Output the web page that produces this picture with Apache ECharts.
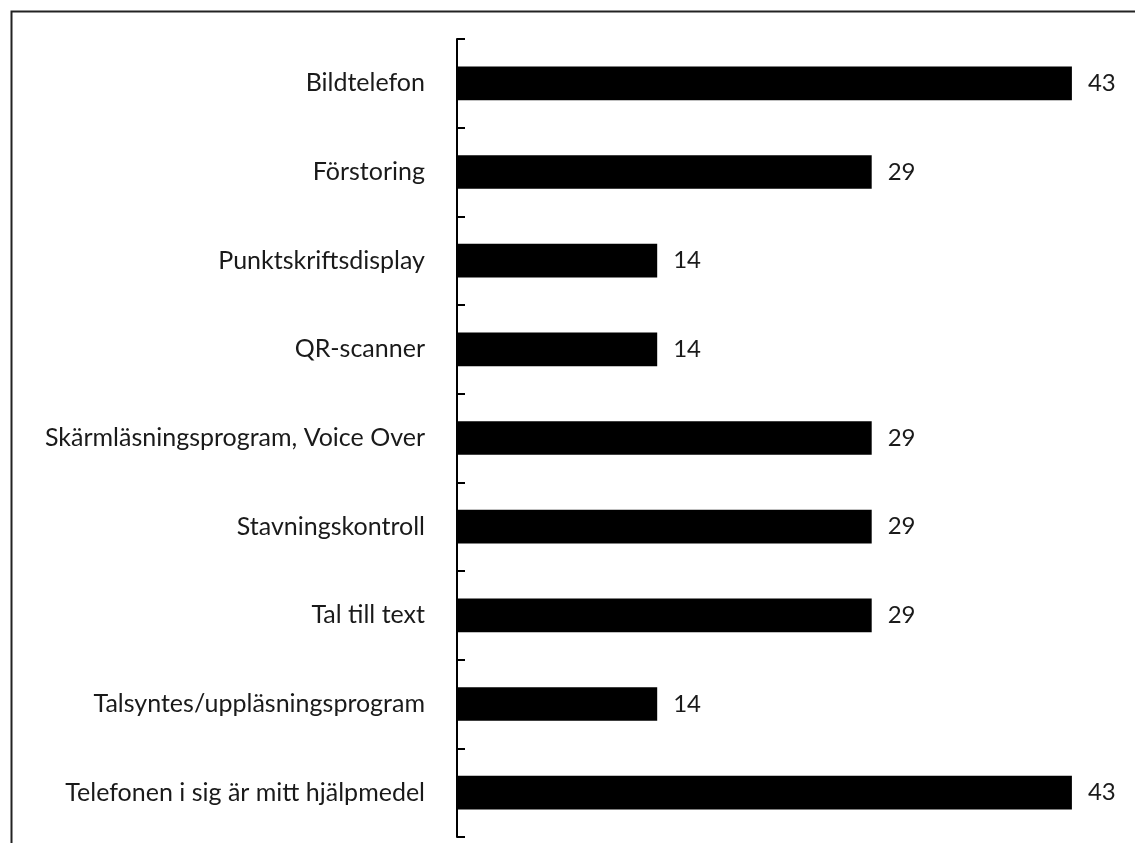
<!DOCTYPE html>
<html><head><meta charset="utf-8">
<script src="https://cdn.jsdelivr.net/npm/echarts@6/dist/echarts.min.js"></script>
<style>html,body{margin:0;padding:0;background:#fff;}#c{width:1135px;height:843px;}</style>
</head><body><div id="c"></div>
<script>
const categories = [
  'Bildtelefon',
  'Förstoring',
  'Punktskriftsdisplay',
  'QR-scanner',
  'Skärmläsningsprogram, Voice Over',
  'Stavningskontroll',
  'Tal till text',
  'Talsyntes/uppläsningsprogram',
  'Telefonen i sig är mitt hjälpmedel'
];
const values = [43, 29, 14, 14, 29, 29, 29, 14, 43];

const chart = echarts.init(document.getElementById('c'), null, {renderer: 'canvas'});
chart.setOption({
  animation: false,
  backgroundColor: '#fff',
  graphic: [{
    type: 'rect', left: 9, top: 9, z: 10,
    shape: {width: 1200, height: 900},
    style: {fill: 'none', stroke: '#222', lineWidth: 2}
  }],
  grid: {left: 457, right: 34.5, top: 39, bottom: 6, containLabel: false},
  xAxis: {type: 'value', min: 0, max: 45, show: false},
  yAxis: {
    type: 'category', data: categories, inverse: true,
    axisLine: {show: true, lineStyle: {color: '#000', width: 2}},
    axisTick: {show: true, inside: true, length: 8, lineStyle: {color: '#000', width: 2}},
    axisLabel: {color: '#1a1a1a', fontSize: 25, fontFamily: 'Lato', margin: 32, padding: [0, 0, 4, 0]}
  },
  series: [{
    type: 'bar', data: values, barWidth: '38%',
    itemStyle: {color: '#000'},
    label: {show: true, position: 'right', distance: 16, color: '#1a1a1a', fontSize: 24, fontFamily: 'Lato'}
  }]
});
</script></body></html>
